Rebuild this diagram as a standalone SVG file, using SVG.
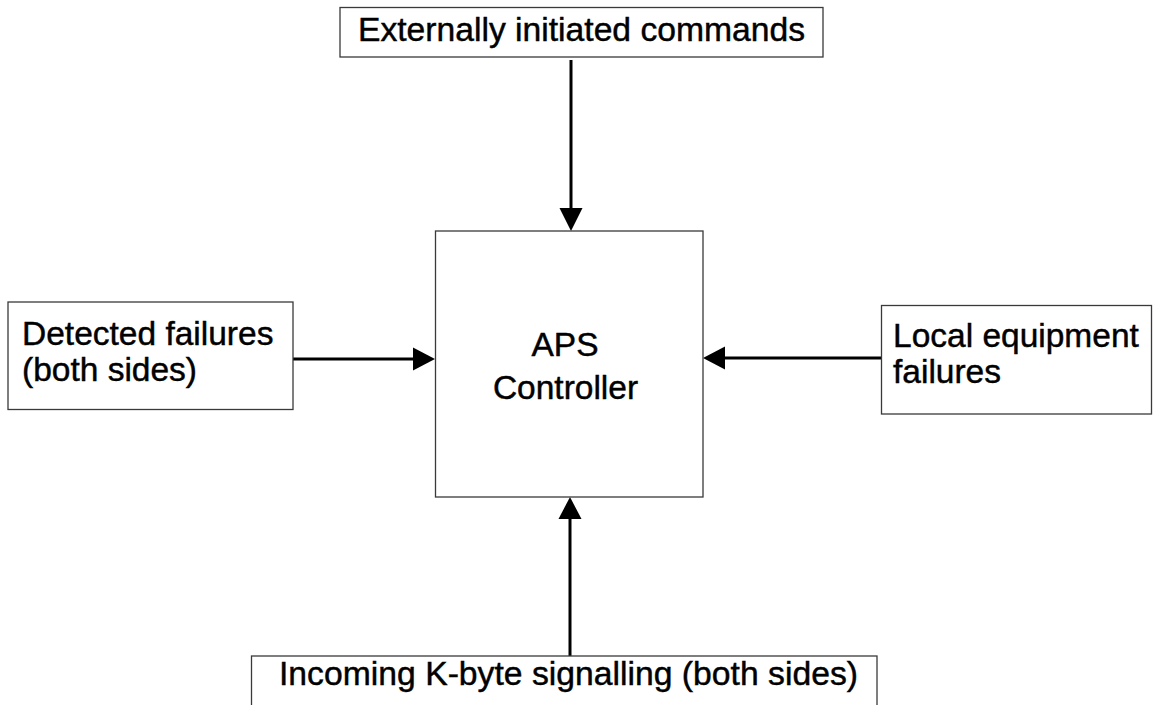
<svg xmlns="http://www.w3.org/2000/svg" width="1153" height="705" viewBox="0 0 1153 705">
  <defs>
    <style>
      .box { fill: #ffffff; stroke: #3a3a3a; stroke-width: 1.3; }
      .lbl { font-family: "Liberation Sans", Arial, Helvetica, sans-serif; font-size: 33.5px; fill: #000000; stroke: #000000; stroke-width: 0.45; }
      .wire { stroke: #000000; stroke-width: 3; fill: none; }
      .head { fill: #000000; }
    </style>
  </defs>
  <rect x="0" y="0" width="1153" height="705" fill="#ffffff"/>

  <!-- connectors: line plus solid triangular head at the controller edge -->
  <g id="connectors">
    <line class="wire" x1="571" y1="60" x2="571" y2="210"/>
    <polygon class="head" points="559.5,208 582.5,208 571,231"/>

    <line class="wire" x1="293" y1="359" x2="415" y2="359"/>
    <polygon class="head" points="413,347.5 413,370.5 435,359"/>

    <line class="wire" x1="881" y1="358" x2="723" y2="358"/>
    <polygon class="head" points="725,346.5 725,369.5 703,358"/>

    <line class="wire" x1="570" y1="656" x2="570" y2="517"/>
    <polygon class="head" points="558.5,519 581.5,519 570,497"/>
  </g>

  <g id="node-commands">
    <rect class="box" x="340" y="7.5" width="483" height="49.5"/>
    <text class="lbl" x="358" y="41" textLength="447" lengthAdjust="spacingAndGlyphs">Externally initiated commands</text>
  </g>

  <g id="node-detected">
    <rect class="box" x="8" y="302" width="285" height="107.5"/>
    <text class="lbl" x="22" y="345">Detected failures</text>
    <text class="lbl" x="22" y="381">(both sides)</text>
  </g>

  <g id="node-controller">
    <rect class="box" x="435.5" y="231" width="267.5" height="266"/>
    <text class="lbl" x="565" y="356" text-anchor="middle">APS</text>
    <text class="lbl" x="565.5" y="399" text-anchor="middle">Controller</text>
  </g>

  <g id="node-local">
    <rect class="box" x="881.5" y="305.5" width="270" height="108.5"/>
    <text class="lbl" x="893" y="347">Local equipment</text>
    <text class="lbl" x="893" y="383">failures</text>
  </g>

  <g id="node-kbyte">
    <rect class="box" x="251.5" y="656" width="625.5" height="60"/>
    <text class="lbl" x="279" y="685" textLength="579" lengthAdjust="spacingAndGlyphs">Incoming K-byte signalling (both sides)</text>
  </g>
</svg>
